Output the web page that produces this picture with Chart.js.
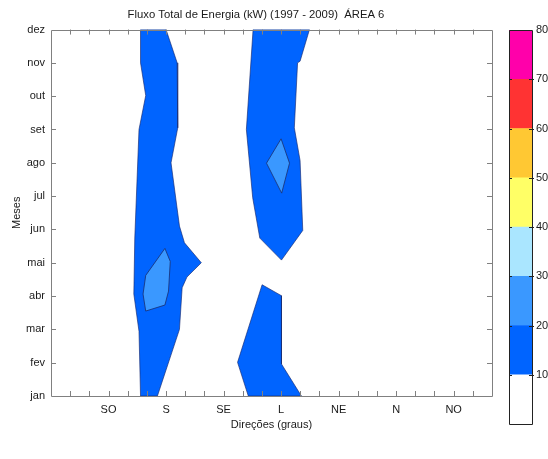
<!DOCTYPE html>
<html>
<head>
<meta charset="utf-8">
<script src="https://cdn.jsdelivr.net/npm/chart.js@4.4.1/dist/chart.umd.min.js"></script>
<style>
  html, body { margin: 0; padding: 0; background: #fff; }
  #wrap { position: relative; width: 548px; height: 459px; }
  #main { position: absolute; left: 0; top: 0; }
  #cbar { position: absolute; left: 496px; top: 0; }
</style>
</head>
<body>
<div id="wrap">
  <canvas id="main" width="512" height="459"></canvas>
  <canvas id="cbar" width="52" height="459"></canvas>
</div>
<script>
// ---- data ----
const months = ["jan","fev","mar","abr","mai","jun","jul","ago","set","out","nov","dez"];
const directions = ["SO","S","SE","L","NE","N","NO"];
const directionTickPos = [3,6,9,12,15,18,21];   // x positions (sector index) of the direction labels
const xMax = 23;

// contour polygons, [sector, month index]
const contourS_10 = [[4.67,11],[6.0,11],[6.58,10.0],[6.61,8.05],[6.26,7.0],[6.7,5.1],[6.96,4.6],[7.84,4.0],[7.09,3.57],[6.84,3.25],[6.7,2.0],[5.55,0],[4.67,0],[4.59,1.94],[4.32,3.06],[4.37,4.74],[4.59,8.0],[4.94,9.02],[4.67,10.0],[4.67,11]];
const contourS_20 = [[5.94,4.43],[6.22,4.04],[6.13,3.15],[5.94,2.73],[4.94,2.55],[4.80,3.06],[4.94,3.62],[5.94,4.43]];
const contourL_10a = [[10.54,11],[13.48,11],[12.99,10.05],[12.86,10.0],[12.69,8.05],[12.99,7.07],[13.13,4.97],[12.02,4.08],[10.89,4.74],[10.52,5.95],[10.19,8.0],[10.54,11]];
const contourL_20 = [[12.0,7.72],[12.44,6.99],[12.03,6.09],[11.24,6.99],[12.0,7.72]];
const contourL_10b = [[11.01,3.34],[12.02,3.01],[12.02,0.96],[13.06,0],[10.29,0],[9.73,1.01],[11.01,3.34]];

const levels = [0,10,20,30,40,50,60,70,80];
const levelColors = ["#ffffff","#0064ff","#3a98ff","#aae6ff","#ffff66","#ffc833","#ff3333","#ff00aa"];

const FONT = "'Liberation Sans', Arial, Helvetica, sans-serif";
Chart.defaults.font.family = FONT;
Chart.defaults.color = "#1a1a1a";
Chart.defaults.animation = false;

function poly(points, color, border, order) {
  return {
    data: points.map(p => ({x: p[0], y: p[1]})),
    showLine: true,
    fill: 'shape',
    backgroundColor: color,
    borderColor: border,
    borderWidth: 0.8,
    pointRadius: 0,
    tension: 0,
    order: order
  };
}

const framePlugin = {
  id: 'frame',
  afterDatasetsDraw(chart) {
    const {ctx, chartArea: a, scales} = chart;
    const xs = scales.x, ys = scales.y;
    ctx.save();
    ctx.strokeStyle = "#808080";
    ctx.lineWidth = 1;
    ctx.beginPath();
    ctx.rect(Math.round(a.left) + 0.5, Math.round(a.top) + 0.5, Math.round(a.right - a.left), Math.round(a.bottom - a.top));
    ctx.stroke();
    const L = 5;
    ctx.beginPath();
    for (let v = 1; v < xMax; v++) {
      const px = Math.round(xs.getPixelForValue(v)) + 0.5;
      ctx.moveTo(px, a.bottom); ctx.lineTo(px, a.bottom - L);
      ctx.moveTo(px, a.top); ctx.lineTo(px, a.top + L);
    }
    for (let m = 1; m < months.length - 1; m++) {
      const py = Math.round(ys.getPixelForValue(m)) + 0.5;
      ctx.moveTo(a.left, py); ctx.lineTo(a.left + L, py);
      ctx.moveTo(a.right, py); ctx.lineTo(a.right - L, py);
    }
    ctx.stroke();
    ctx.restore();
  }
};

new Chart(document.getElementById('main'), {
  type: 'scatter',
  data: {
    datasets: [
      poly(contourS_20, levelColors[2], "#1b2f6e", 1),
      poly(contourL_20, levelColors[2], "#1b2f6e", 1),
      poly(contourS_10, levelColors[1], "rgba(20,40,110,0.8)", 2),
      poly(contourL_10a, levelColors[1], "rgba(20,40,110,0.8)", 2),
      poly(contourL_10b, levelColors[1], "rgba(20,40,110,0.8)", 2)
    ]
  },
  options: {
    responsive: false,
    devicePixelRatio: 1,
    layout: { padding: 0 },
    plugins: {
      legend: { display: false },
      tooltip: { enabled: false },
      title: {
        display: true,
        text: "Fluxo Total de Energia (kW) (1997 - 2009)  ÁREA 6",
        font: { size: 11.3, weight: 'normal', family: FONT },
        color: "#1a1a1a",
        padding: { top: 8, bottom: 8 }
      }
    },
    scales: {
      x: {
        type: 'linear', min: 0, max: xMax,
        afterFit(s) { s.height = 63; },
        grid: { drawOnChartArea: false, drawTicks: false },
        border: { display: false },
        ticks: {
          stepSize: 1, autoSkip: false, maxRotation: 0, padding: 7,
          font: { size: 11 },
          callback(v) { const i = directionTickPos.indexOf(v); return i >= 0 ? directions[i] : ''; }
        },
        title: { display: true, text: "Direções (graus)", font: { size: 11 }, padding: { top: 0, bottom: 27 } }
      },
      y: {
        type: 'linear', min: 0, max: 11,
        afterFit(s) { s.width = 51; },
        grid: { drawOnChartArea: false, drawTicks: false },
        border: { display: false },
        ticks: {
          stepSize: 1, autoSkip: false, padding: 6,
          font: { size: 11 },
          callback(v) { return months[v] || ''; }
        },
        title: { display: true, text: "Meses", font: { size: 11 }, padding: { top: 10, bottom: 0 } }
      },
      yRight: {
        type: 'linear', position: 'right', min: 0, max: 11,
        afterFit(s) { s.width = 20; },
        grid: { display: false },
        border: { display: false },
        ticks: { display: false }
      }
    }
  },
  plugins: [framePlugin]
});

// ---- colour bar ----
const cbFramePlugin = {
  id: 'cbframe',
  afterDatasetsDraw(chart) {
    const {ctx, chartArea: a, scales} = chart;
    ctx.save();
    ctx.strokeStyle = "#222";
    ctx.lineWidth = 1;
    ctx.beginPath();
    ctx.rect(Math.round(a.left) + 0.5, Math.round(a.top) + 0.5, Math.round(a.right - a.left), Math.round(a.bottom - a.top));
    ctx.stroke();
    ctx.beginPath();
    for (let i = 1; i < levels.length - 1; i++) {
      const py = Math.round(scales.y.getPixelForValue(levels[i])) + 0.5;
      ctx.moveTo(a.right - 3, py); ctx.lineTo(a.right + 2, py);
      ctx.moveTo(a.left, py); ctx.lineTo(a.left + 3, py);
    }
    ctx.stroke();
    ctx.restore();
  }
};

new Chart(document.getElementById('cbar'), {
  type: 'bar',
  data: {
    labels: [''],
    datasets: levelColors.map((c, i) => ({
      data: [levels[i + 1] - levels[i]],
      backgroundColor: c,
      borderWidth: 0,
      stack: 'cb',
      barPercentage: 1,
      categoryPercentage: 1
    }))
  },
  options: {
    responsive: false,
    devicePixelRatio: 1,
    layout: { padding: { left: 13, right: 0, top: 30, bottom: 35 } },
    plugins: { legend: { display: false }, tooltip: { enabled: false } },
    scales: {
      x: { stacked: true, display: false },
      y: {
        stacked: true, position: 'right', min: 0, max: 80,
        afterFit(s) { s.width = 16; },
        grid: { drawOnChartArea: false, drawTicks: false },
        border: { display: false },
        ticks: {
          stepSize: 10, padding: 4, font: { size: 11 },
          callback(v) { return v === 0 ? '' : v; }
        }
      }
    }
  },
  plugins: [cbFramePlugin]
});
</script>
</body>
</html>
